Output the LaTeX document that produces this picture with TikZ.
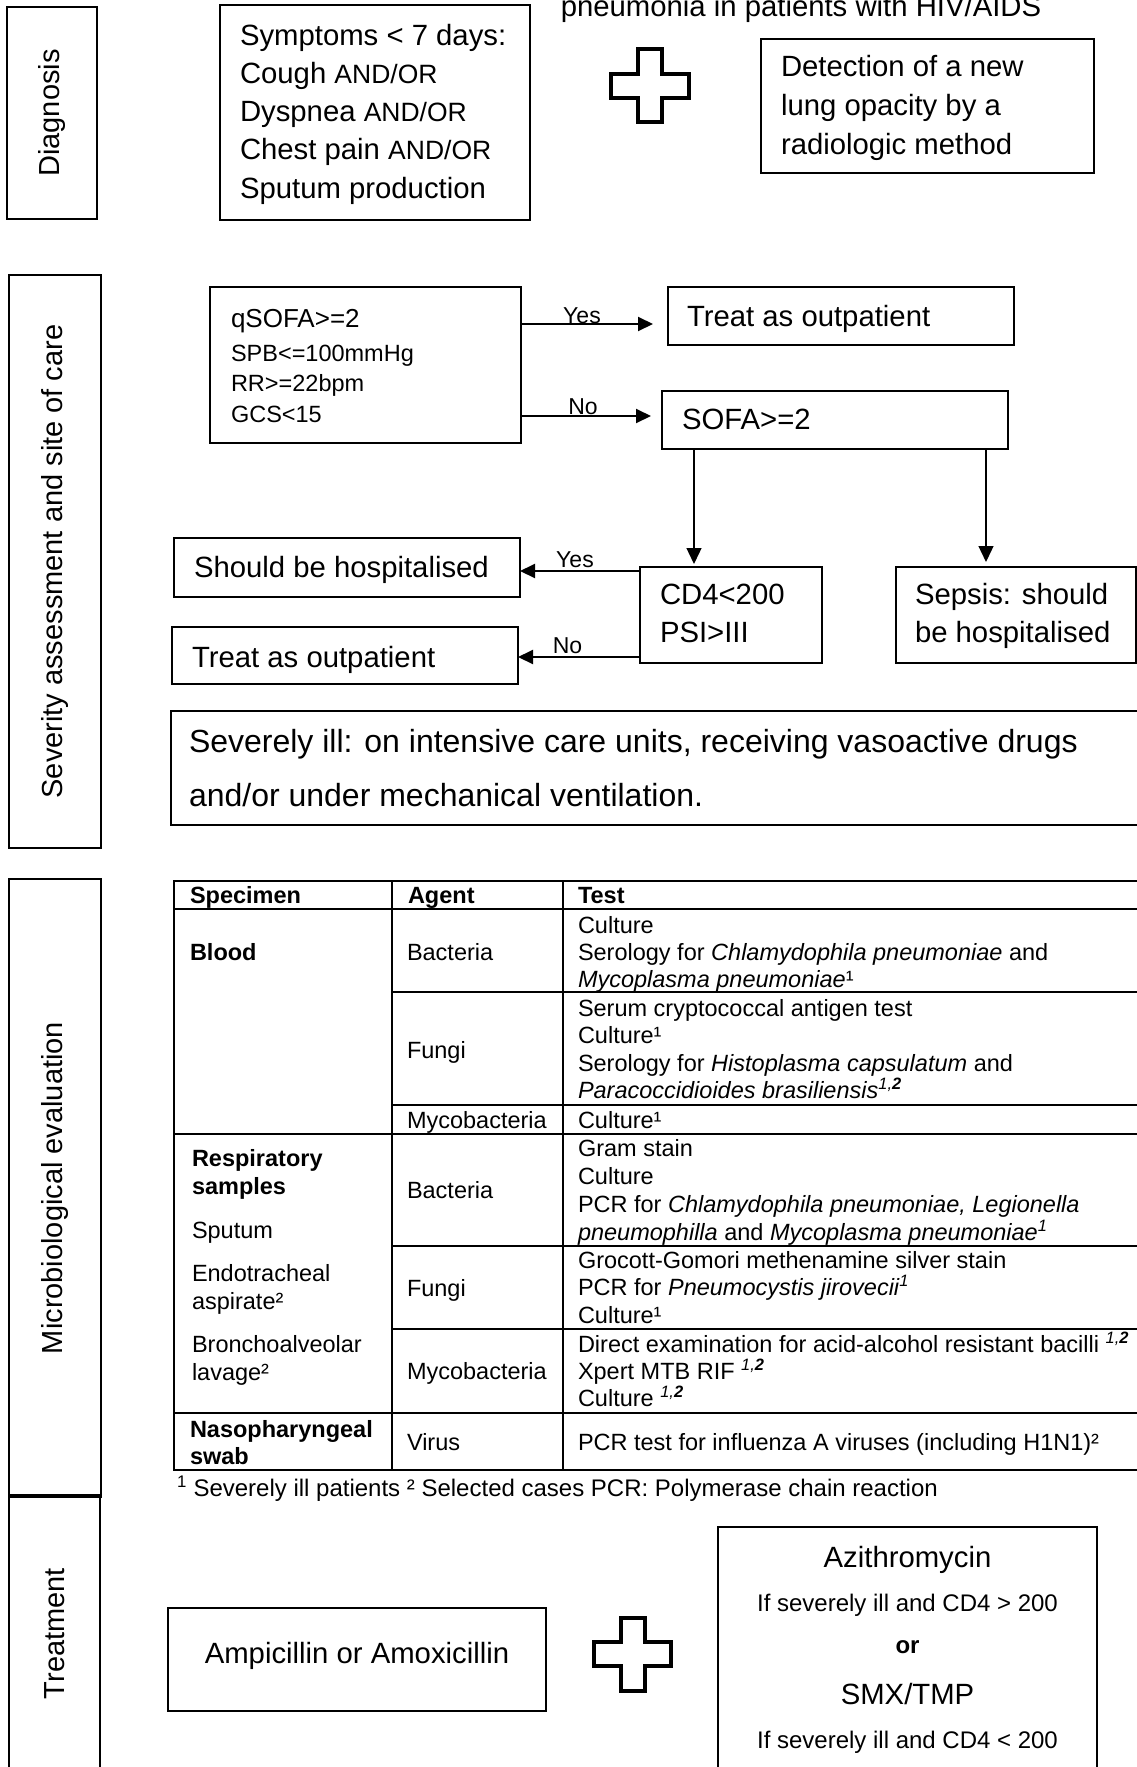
\documentclass[tikz,border=0pt]{standalone}
\usepackage{fontspec}
\setmainfont{Liberation Sans}
\usetikzlibrary{arrows.meta}
\newcommand\fsz[2]{\fontsize{#1}{#2}\selectfont}
\begin{document}
\begin{tikzpicture}[x=1pt,y=-1pt,
  box/.style={draw=black, line width=1.5pt, anchor=north west, inner sep=0pt, outer sep=0pt},
  sidebox/.style={draw=black, line width=2pt, rotate=90, anchor=center, inner sep=0pt, outer sep=0pt, font=\fsz{29}{34}},
  txt/.style={anchor=base west, inner sep=0pt, outer sep=0pt, align=left},
  ctxt/.style={anchor=base, inner sep=0pt, outer sep=0pt, align=center},
  tbl/.style={anchor=base west, inner sep=0pt, outer sep=0pt, align=left, font=\fsz{23.5}{27.5}},
  tline/.style={line width=1.8pt},
  yesno/.style={line width=2pt, -{Triangle[length=15pt,width=14pt]}},
  downarr/.style={line width=1.3pt, -{Triangle[length=16pt,width=15pt]}},
  lbl/.style={anchor=base, inner sep=0pt, font=\fsz{23}{27}},
  crossline/.style={line width=4.5pt, draw=black, fill=white, line join=miter},
]
\useasboundingbox (0,0) rectangle (1137,1767);
\clip (0,0) rectangle (1137,1767);

% Multi-line text nodes are placed by the baseline of their LAST line.

% ---------------- Diagnosis ----------------
\node[sidebox, minimum width=212pt, minimum height=90pt] (diagL) at (52,113) {Diagnosis};
\node[box, line width=2pt, minimum width=310pt, minimum height=215pt] (symp) at (220,5) {};
\node[txt, font=\fsz{29.3}{38.3}] (sympT) at (240,198.2)
  {Symptoms < 7 days:\\Cough {\fsz{26.5}{38.3}AND/OR}\\Dyspnea {\fsz{26.5}{38.3}AND/OR}\\Chest pain {\fsz{26.5}{38.3}AND/OR}\\Sputum production};
\node[ctxt, font=\fsz{29.3}{34}] (title) at (801,16.7) {pneumonia in patients with HIV/AIDS};
\draw[crossline] (638.2,49.2) -- (661.8,49.2) -- (661.8,74.2) -- (688.8,74.2) -- (688.8,97.8) -- (661.8,97.8) -- (661.8,121.8) -- (638.2,121.8) -- (638.2,97.8) -- (611.2,97.8) -- (611.2,74.2) -- (638.2,74.2) -- cycle;
\node[box, minimum width=333pt, minimum height=134pt] (detect) at (761,39) {};
\node[txt, font=\fsz{29.3}{39}] (detectT) at (781,154.5) {Detection of a new\\lung opacity by a\\radiologic method};

% ---------------- Severity ----------------
\node[sidebox, minimum width=573pt, minimum height=92pt] (sevL) at (55,561.5) {Severity assessment and site of care};
\node[box, line width=2.5pt, minimum width=311pt, minimum height=156pt] (qsofa) at (210,287) {};
\node[txt, font=\fsz{23.5}{30.4}] (qsofaT) at (231,422) {{\fsz{26}{30.4}qSOFA>=2}\\[3.8pt]SPB<=100mmHg\\RR>=22bpm\\GCS<15};
\node[box, minimum width=346pt, minimum height=58pt] (treat1) at (668,287) {};
\node[txt, font=\fsz{29.3}{34}] (treat1T) at (687,326.5) {Treat as outpatient};
\node[box, minimum width=346pt, minimum height=58pt] (sofa) at (662,391) {};
\node[txt, font=\fsz{29.3}{34}] (sofaT) at (682,429.5) {SOFA>=2};
\node[box, minimum width=346pt, minimum height=59pt] (should) at (174,538) {};
\node[txt, font=\fsz{29.3}{34}] (shouldT) at (194,577.5) {Should be hospitalised};
\node[box, minimum width=346pt, minimum height=57pt] (treat2) at (172,627) {};
\node[txt, font=\fsz{29.3}{34}] (treat2T) at (192,667.5) {Treat as outpatient};
\node[box, minimum width=182pt, minimum height=96pt] (cd4) at (640,567) {};
\node[txt, font=\fsz{29.3}{38.5}] (cd4T) at (660,642.5) {CD4<200\\PSI>III};
\node[box, line width=1.3pt, minimum width=240pt, minimum height=96pt] (sepsis) at (896,567) {};
\node[txt, font=\fsz{29.3}{38.5}] (sepsisT) at (915,642.5) {Sepsis: should\\be hospitalised};
\node[box, line width=1.3pt, minimum width=979pt, minimum height=114pt] (severe) at (171,711) {};
\node[txt, font=\fsz{32}{54}] (severeT) at (189,806.5) {Severely ill: on intensive care units, receiving vasoactive drugs\\and/or under mechanical ventilation.};

\coordinate (yesA) at ([yshift=41pt]qsofa.east);
\draw[yesno, shorten >=15pt] (yesA) -- (yesA -| treat1.west);
\coordinate (noA) at ([yshift=-51pt]qsofa.east);
\draw[yesno, shorten >=11pt] (noA) -- (noA -| sofa.west);
\coordinate (dA) at ([xshift=32pt]sofa.south west);
\draw[downarr, shorten >=3pt] (dA) -- (dA |- cd4.north);
\coordinate (dB) at ([xshift=-22pt]sofa.south east);
\draw[downarr, shorten >=5pt] (dB) -- (dB |- sepsis.north);
\coordinate (yesB) at ([yshift=44pt]cd4.west);
\draw[yesno] (yesB) -- (yesB -| should.east);
\coordinate (noB) at ([yshift=-42pt]cd4.west);
\draw[yesno] (noB) -- (noB -| treat2.east);
\node[lbl] (yes1) at (582,323.5) {Yes};
\node[lbl] (no1) at (583,414.5) {No};
\node[lbl] (yes2) at (575,567) {Yes};
\node[lbl] (no2) at (567.5,653) {No};

% ---------------- Microbiological ----------------
\node[sidebox, minimum width=618pt, minimum height=92pt] (micL) at (55,1188) {Microbiological evaluation};
\draw[tline] (1150,881) -- (174,881) -- (174,1470) -- (1150,1470);
\draw[tline] (174,909) -- (1150,909);
\draw[tline] (392,881) -- (392,1470);
\draw[tline] (563,881) -- (563,1470);
\draw[tline] (392,992) -- (1150,992);
\draw[tline] (392,1105) -- (1150,1105);
\draw[tline] (174,1134) -- (1150,1134);
\draw[tline] (392,1246) -- (1150,1246);
\draw[tline] (392,1329) -- (1150,1329);
\draw[tline] (174,1413) -- (1150,1413);

\node[tbl, font=\fsz{23.5}{27.5}\bfseries] (hSpec) at (190,903.5) {Specimen};
\node[tbl, font=\fsz{23.5}{27.5}\bfseries] (hAgent) at (408,903.5) {Agent};
\node[tbl, font=\fsz{23.5}{27.5}\bfseries] (hTest) at (578,903.5) {Test};

\node[tbl, font=\fsz{23.5}{27.5}\bfseries] (sBlood) at (190,960.5) {Blood};
\node[tbl] (aB1) at (407,960.5) {Bacteria};
\node[tbl, font=\fsz{23.5}{27.2}] (tB1) at (578,987.4) {Culture\\Serology for \textit{Chlamydophila pneumoniae} and\\\textit{Mycoplasma pneumoniae}¹};
\node[tbl] (aB2) at (407,1058) {Fungi};
\node[tbl, font=\fsz{23.5}{27.6}] (tB2) at (578,1098.8) {Serum cryptococcal antigen test\\Culture¹\\Serology for \textit{Histoplasma capsulatum} and\\\textit{Paracoccidioides brasiliensis}\textsuperscript{\textit{1,\textbf{2}}}};
\node[tbl] (aB3) at (407,1128) {Mycobacteria};
\node[tbl] (tB3) at (578,1128) {Culture¹};

\node[tbl, font=\fsz{23.5}{28}] (sResp) at (192,1380.4) {\textbf{Respiratory}\\\textbf{samples}\\[16pt]Sputum\\[15pt]Endotracheal\\aspirate²\\[15pt]Bronchoalveolar\\lavage²};
\node[tbl] (aR1) at (407,1198.4) {Bacteria};
\node[tbl, font=\fsz{23.5}{27.9}] (tR1) at (578,1240.1) {Gram stain\\Culture\\PCR for \textit{Chlamydophila pneumoniae, Legionella}\\\textit{pneumophilla} and \textit{Mycoplasma pneumoniae\textsuperscript{1}}};
\node[tbl] (aR2) at (407,1296.4) {Fungi};
\node[tbl, font=\fsz{23.5}{27.5}] (tR2) at (578,1323.4) {Grocott-Gomori methenamine silver stain\\PCR for \textit{Pneumocystis jirovecii\textsuperscript{1}}\\Culture¹};
\node[tbl] (aR3) at (407,1379.4) {Mycobacteria};
\node[tbl, font=\fsz{23.5}{27}] (tR3) at (578,1406.4) {Direct examination for acid-alcohol resistant bacilli \textsuperscript{\textit{1,\textbf{2}}}\\Xpert MTB RIF \textsuperscript{\textit{1,\textbf{2}}}\\Culture \textsuperscript{\textit{1,\textbf{2}}}};

\node[tbl, font=\fsz{23.5}{27}\bfseries] (sNaso) at (190,1464.4) {Nasopharyngeal\\swab};
\node[tbl] (aN) at (407,1450.4) {Virus};
\node[tbl] (tN) at (578,1450.4) {PCR test for influenza A viruses (including H1N1)²};
\node[tbl, font=\fsz{24}{28}] (foot) at (177,1496.5) {\textsuperscript{1} Severely ill patients ² Selected cases PCR: Polymerase chain reaction};

% ---------------- Treatment ----------------
\node[sidebox, minimum width=277pt, minimum height=91pt] (treatL) at (54.5,1633.5) {Treatment};
\node[box, line width=2pt, minimum width=378pt, minimum height=103pt] (amp) at (168,1608) {};
\node[ctxt, font=\fsz{29.3}{34}] (ampT) at (357,1663.5) {Ampicillin or Amoxicillin};
\draw[crossline] (621.2,1618.2) -- (644.8,1618.2) -- (644.8,1642.2) -- (670.8,1642.2) -- (670.8,1665.8) -- (644.8,1665.8) -- (644.8,1690.8) -- (621.2,1690.8) -- (621.2,1665.8) -- (594.2,1665.8) -- (594.2,1642.2) -- (621.2,1642.2) -- cycle;
\node[box, line width=1.8pt, minimum width=379pt, minimum height=263pt] (azbox) at (718,1527) {};
\node[ctxt, font=\fsz{29.3}{34}] (az1) at (907.5,1567) {Azithromycin};
\node[ctxt, font=\fsz{24}{28}] (az2) at (907.5,1611.6) {If severely ill and CD4 > 200};
\node[ctxt, font=\fsz{24}{28}\bfseries] (az3) at (907.5,1653) {or};
\node[ctxt, font=\fsz{29.3}{34}] (az4) at (907.5,1704.5) {SMX/TMP};
\node[ctxt, font=\fsz{24}{28}] (az5) at (907.5,1748.6) {If severely ill and CD4 < 200};
\end{tikzpicture}
\end{document}
